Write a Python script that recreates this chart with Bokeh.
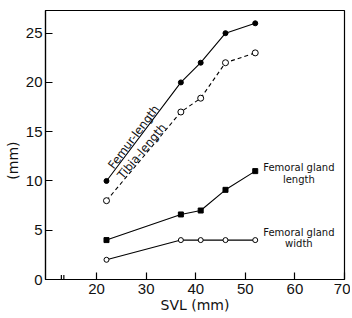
import math
from bokeh.plotting import figure
from bokeh.models import Range1d, FixedTicker
from bokeh.embed import file_html
from bokeh.resources import INLINE
from bokeh.core.properties import value

# data
svl = [22, 37, 41, 46, 52]
femur_length = [10, 20, 22, 25, 26]
tibia_length = [8, 17, 18.4, 22, 23]
gland_length = [4, 6.6, 7.0, 9.1, 11]
gland_width = [2, 4, 4, 4, 4]
x_ticks = [20, 30, 40, 50, 60, 70]
y_ticks = [0, 5, 10, 15, 20, 25]
break_x = [12.9, 13.4]

p = figure(width=350, height=316, output_backend="svg", toolbar_location=None,
           x_range=Range1d(9.7, 70), y_range=Range1d(0, 27.3),
           min_border_left=45, min_border_right=6, min_border_top=10, min_border_bottom=37)
p.grid.visible = False
p.outline_line_color = "black"
p.outline_line_width = 1.2
p.background_fill_color = "white"
p.border_fill_color = "white"

for ax in (p.xaxis[0], p.yaxis[0]):
    ax.axis_line_width = 1.2
    ax.axis_line_color = "black"
    ax.major_tick_in = 7
    ax.major_tick_out = 0
    ax.minor_tick_in = 0
    ax.minor_tick_out = 0
    ax.major_tick_line_color = "black"
    ax.major_tick_line_width = 1.2
    ax.major_label_text_font = "Liberation Sans"
    ax.major_label_text_font_size = "15px"
    ax.major_label_text_color = "#111111"
    ax.axis_label_text_font = "DejaVu Sans"
    ax.axis_label_text_font_size = "14px"
    ax.axis_label_text_font_style = "normal"
    ax.axis_label_text_color = "#111111"

p.xaxis.ticker = FixedTicker(ticks=x_ticks)
p.yaxis.ticker = FixedTicker(ticks=y_ticks)
p.xaxis.major_label_standoff = 4
p.yaxis.major_label_standoff = 3
p.xaxis.axis_label = "SVL (mm)"
p.xaxis.axis_label_standoff = 0
p.yaxis.axis_label = "(mm)" + "\u00a0" * 7
p.yaxis.axis_label_standoff = 2

# axis break marks
p.segment(x0=break_x, x1=break_x, y0=[0, 0], y1=[0.45, 0.45], line_color="black", line_width=1.2)

# series
p.line(svl, femur_length, line_color="black", line_width=1.1)
p.scatter(svl, femur_length, marker="circle", size=5, fill_color="black", line_color="black")

p.line(svl, tibia_length, line_color="black", line_width=1.1, line_dash="4 3")
p.scatter(svl, tibia_length, marker="circle", size=6, fill_color="white", line_color="black")

p.line(svl, gland_length, line_color="black", line_width=1.1)
p.scatter(svl, gland_length, marker="square", size=5, fill_color="black", line_color="black")

p.line(svl, gland_width, line_color="black", line_width=1.1)
p.scatter(svl, gland_width, marker="circle", size=5, fill_color="white", line_color="black")

# annotations (sitting just above their lines)
p.text(x=[27.46], y=[14.48], text=["Femur-length"], angle=math.radians(53),
       text_align="center", text_baseline="alphabetic",
       text_font=value("DejaVu Sans"), text_font_size="11.5px", text_color="#111111")
p.text(x=[29.09], y=[13.03], text=["Tibia-length"], angle=math.radians(50),
       text_align="center", text_baseline="alphabetic",
       text_font=value("DejaVu Sans"), text_font_size="11.5px", text_color="#111111")

p.text(x=[60.8, 60.8], y=[11.37, 10.15], text=["Femoral gland", "length"],
       text_align="center", text_baseline="middle",
       text_font=value("DejaVu Sans"), text_font_size="10px", text_color="#111111")
p.text(x=[60.8, 60.8], y=[4.77, 3.65], text=["Femoral gland", "width"],
       text_align="center", text_baseline="middle",
       text_font=value("DejaVu Sans"), text_font_size="10px", text_color="#111111")

open("out.html", "w").write(file_html(p, INLINE))
